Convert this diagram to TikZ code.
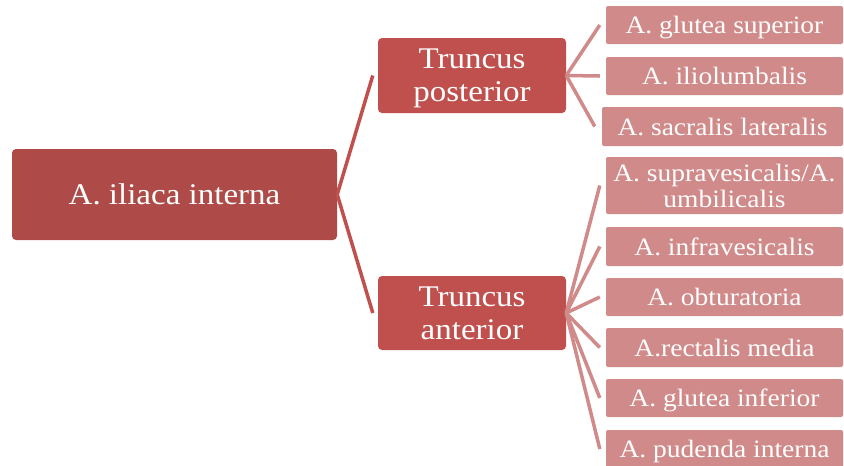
\documentclass[tikz,border=0pt]{standalone}
\usepackage{fontspec}
\setmainfont{Liberation Serif}[FakeStretch=1.1]
\definecolor{rootred}{RGB}{174,74,71}
\definecolor{trunkred}{RGB}{192,80,77}
\definecolor{leafpink}{RGB}{208,138,137}
\usetikzlibrary{positioning,calc}

\tikzset{
    rootbox/.style={fill=rootred, text=white, rounded corners=4pt, inner sep=0pt,
        font=\fontsize{30}{33}\selectfont},
    trunkbox/.style={fill=trunkred, text=white, rounded corners=4pt, inner sep=0pt,
        align=center, font=\fontsize{30}{33}\selectfont},
    leafbox/.style={fill=leafpink, text=white, rounded corners=2pt, inner sep=0pt,
        align=center, font=\fontsize{25}{26}\selectfont},
    oneline/.style={text height=17pt, text depth=0pt},
    trunkline/.style={draw=trunkred, line width=3.5pt},
    leafline/.style={draw=leafpink, line width=3.5pt}
}

\begin{document}
\begin{tikzpicture}[x=1pt, y=-1pt]
    \useasboundingbox (0,0) rectangle (844,466);

    % Root
    \node[rootbox, minimum width=325pt, minimum height=91pt] (root) at (174.5,194.5) {A. iliaca interna};

    % Trunks
    \node[trunkbox, minimum width=188pt, minimum height=75pt, text depth=0pt] (post) at (472,75.5) {Truncus\\posterior};
    \node[trunkbox, minimum width=188pt, minimum height=74pt, text depth=0pt] (ant) at (472,313) {Truncus\\anterior};

    % Branches of truncus posterior
    \node[leafbox, oneline, minimum width=237pt, minimum height=38pt] (gsup) at (724.5,25) {A. glutea superior};
    \node[leafbox, oneline, minimum width=237pt, minimum height=38pt] (ilio) at (724.5,76) {A. iliolumbalis};
    \node[leafbox, oneline, minimum width=241pt, minimum height=39pt] (sacr) at (722.5,126.5) {A. sacralis lateralis};

    % Branches of truncus anterior
    \node[leafbox, minimum width=237pt, minimum height=57pt] (supra) at (724.5,185.5) {A. supravesicalis/A.\\umbilicalis};
    \node[leafbox, oneline, minimum width=237pt, minimum height=39pt] (infra) at (724.5,246.5) {A. infravesicalis};
    \node[leafbox, oneline, minimum width=237pt, minimum height=38pt] (obtu) at (724.5,297) {A. obturatoria};
    \node[leafbox, oneline, minimum width=237pt, minimum height=39pt] (rect) at (724.5,347.5) {A.rectalis media};
    \node[leafbox, oneline, minimum width=237pt, minimum height=38pt] (ginf) at (724.5,398) {A. glutea inferior};
    \node[leafbox, oneline, minimum width=237pt, minimum height=38pt] (pud) at (724.5,449) {A. pudenda interna};

    % Connectors
    \draw[trunkline] (root.east) -- ([xshift=-5pt]post.west);
    \draw[trunkline] (root.east) -- ([xshift=-5pt]ant.west);

    \foreach \leaf/\gap in {gsup/6,ilio/6,sacr/7}
        \draw[leafline] (post.east) -- ([xshift=-\gap pt]\leaf.west);
    \foreach \leaf in {supra,infra,obtu,rect,ginf,pud}
        \draw[leafline] (ant.east) -- ([xshift=-6pt]\leaf.west);
\end{tikzpicture}
\end{document}
